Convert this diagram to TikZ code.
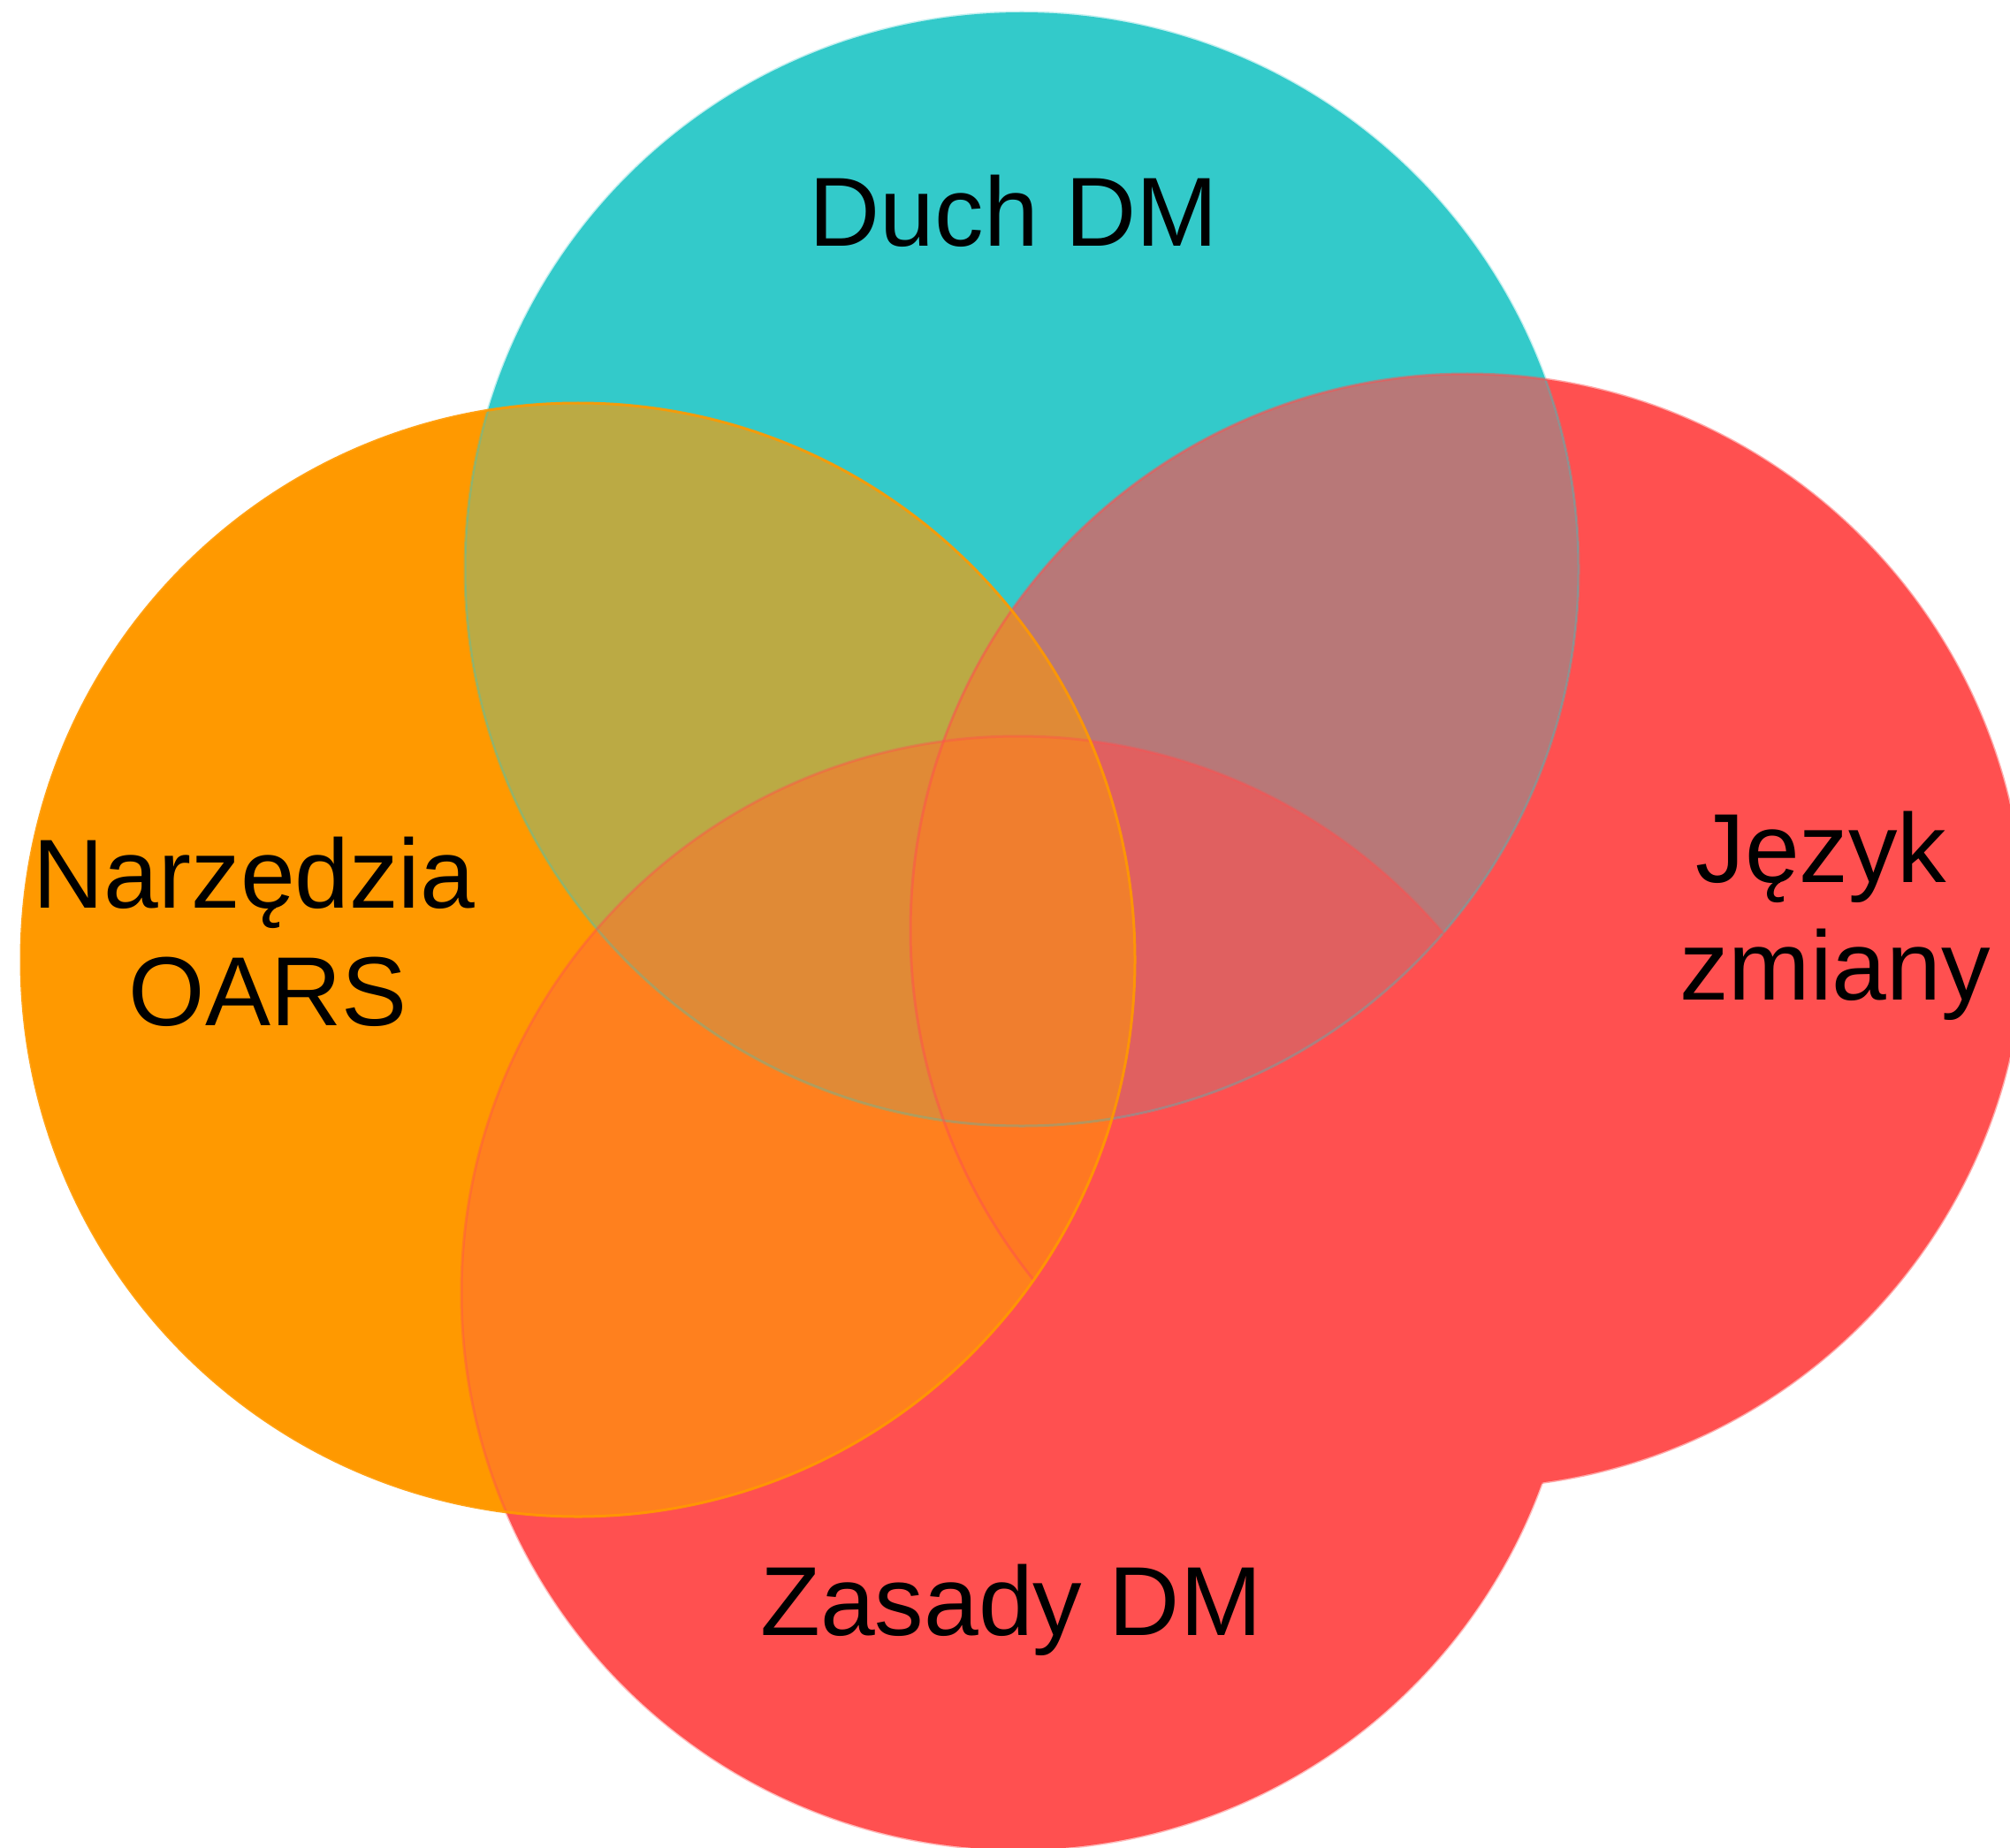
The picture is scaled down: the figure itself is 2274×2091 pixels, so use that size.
\documentclass[tikz,border=0pt]{standalone}
\usepackage{fontspec}
\setmainfont{Liberation Sans}
\definecolor{cTeal}{HTML}{33CACA}
\definecolor{cOrange}{HTML}{FF9900}
\definecolor{cRed}{HTML}{FF5050}
\definecolor{cTL}{HTML}{BBAA44}
\definecolor{cTR}{HTML}{B87878}
\definecolor{cLB}{HTML}{FF801E}
\definecolor{cLR}{HTML}{FF7822}
\definecolor{cTRB}{HTML}{E06060}
\definecolor{cTLx}{HTML}{E08A36}
\definecolor{cAll}{HTML}{F07E2E}
\begin{document}
\begin{tikzpicture}[x=0.5pt,y=-0.5pt,
  lbl/.style={font=\fontsize{55.5pt}{66.5pt}\selectfont, text=black, inner sep=0pt, align=center},
  ring/.style={line width=1.5pt}]
\def\rad{315pt}
\useasboundingbox (0,0) rectangle (2274,2091);
\coordinate (cT) at (1156,644);
\coordinate (cL) at (654,1086);
\coordinate (cR) at (1660,1053);
\coordinate (cB) at (1152,1463);
% base circles
\fill[cRed] (cR) circle[radius=\rad];
\fill[cRed] (cB) circle[radius=\rad];
\fill[cOrange] (cL) circle[radius=\rad];
\fill[cTeal] (cT) circle[radius=\rad];
% overlaps without the top circle
\begin{scope}
  \clip (cL) circle[radius=\rad];
  \fill[cLB] (cB) circle[radius=\rad];
  \fill[cLR] (cR) circle[radius=\rad];
\end{scope}
% overlaps with the top circle
\begin{scope}
  \clip (cT) circle[radius=\rad];
  \fill[cTL] (cL) circle[radius=\rad];
  \fill[cTR] (cR) circle[radius=\rad];
\end{scope}
\begin{scope}
  \clip (cT) circle[radius=\rad];
  \clip (cR) circle[radius=\rad];
  \fill[cTRB] (cB) circle[radius=\rad];
\end{scope}
\begin{scope}
  \clip (cT) circle[radius=\rad];
  \clip (cL) circle[radius=\rad];
  \fill[cTLx] (cB) circle[radius=\rad];
  \fill[cTLx] (cR) circle[radius=\rad];
\end{scope}
\begin{scope}
  \clip (cT) circle[radius=\rad];
  \clip (cL) circle[radius=\rad];
  \clip (cR) circle[radius=\rad];
  \fill[cAll] (cB) circle[radius=\rad];
\end{scope}
% thin outlines
\draw[ring, cTeal, opacity=.3] (cT) circle[radius=\rad];
\draw[ring, cRed, opacity=.4] (cB) circle[radius=\rad];
\draw[ring, cRed, opacity=.5] (cR) circle[radius=\rad];
\draw[ring, cOrange, opacity=.9] (cL) circle[radius=\rad];
% labels
\node[lbl, anchor=base] (duch) at (1147,279) {Duch DM};
\node[lbl, anchor=base] (zasady) at (1144,1850) {Zasady DM};
\node[lbl, anchor=base] (narz) at (303,1160) {Narzędzia\hphantom{\ }\\OARS};
\node[lbl, anchor=base] (jezyk) at (2076,1131) {Język\hphantom{\ }\\zmiany};
\end{tikzpicture}
\end{document}
